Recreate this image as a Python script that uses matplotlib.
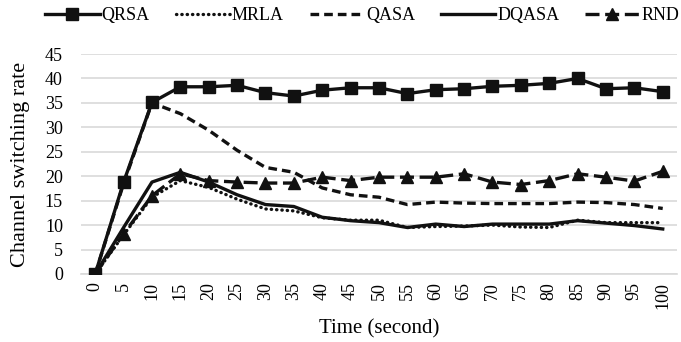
import matplotlib.pyplot as plt
import numpy as np

plt.rcParams["font.family"] = ["Liberation Serif", "DejaVu Serif"]

# time axis (categories) and series
time = [0, 5, 10, 15, 20, 25, 30, 35, 40, 45, 50,
        55, 60, 65, 70, 75, 80, 85, 90, 95, 100]
qrsa = [0, 18.8, 35.1, 38.3, 38.3, 38.6, 37.1, 36.4, 37.6, 38.1, 38.1,
        36.9, 37.7, 37.9, 38.4, 38.6, 39.0, 40.0, 37.9, 38.1, 37.3]
mrla = [0, 8.0, 15.7, 19.1, 17.7, 15.3, 13.3, 12.9, 11.5, 11.0, 11.0,
        9.5, 9.7, 9.8, 10.0, 9.6, 9.5, 11.0, 10.5, 10.5, 10.5]
qasa = [0, 18.5, 35.0, 32.8, 29.4, 25.3, 21.8, 20.8, 17.6, 16.2, 15.7,
        14.2, 14.7, 14.5, 14.4, 14.4, 14.4, 14.7, 14.6, 14.2, 13.4]
dqasa = [0, 9.5, 18.8, 20.8, 18.8, 16.2, 14.2, 13.8, 11.6, 10.9, 10.5,
         9.5, 10.2, 9.7, 10.2, 10.2, 10.2, 10.9, 10.4, 9.9, 9.2]
rnd = [0, 8.2, 16.0, 20.5, 19.1, 18.8, 18.6, 18.6, 19.8, 19.1, 19.8,
       19.8, 19.8, 20.5, 18.8, 18.3, 19.1, 20.5, 19.8, 19.0, 21.0]

fig = plt.figure(figsize=(6.81, 3.42), dpi=100)
ax = fig.add_axes([0.119, 0.199, 0.875, 0.643])

x = np.arange(len(time))
c = "#111111"
lw = 2.4

ax.plot(x, dqasa, color=c, lw=lw, label="DQASA", zorder=3)
ax.plot(x, mrla, color=c, lw=lw, linestyle=(0, (0.1, 1.5)),
        dash_capstyle="round", label="MRLA", zorder=3)
ax.plot(x, qasa, color=c, lw=lw, linestyle=(0, (2.6, 1.5)), label="QASA", zorder=3)
ax.plot(x, rnd, color=c, lw=lw, linestyle=(0, (4.2, 1.7)), marker="^",
        markersize=8.5, label="RND", zorder=4)
ax.plot(x, qrsa, color=c, lw=lw, marker="s", markersize=9,
        label="QRSA", zorder=5)

ax.set_xlim(-0.5, len(time) - 0.5)
ax.set_ylim(0, 45)
ax.set_yticks(range(0, 46, 5))
ax.set_xticks(x)
ax.set_xticklabels([str(t) for t in time], rotation=90)
ax.tick_params(axis="both", length=0, labelsize=13)
ax.tick_params(axis="y", pad=13)
ax.tick_params(axis="x", pad=6)
ax.yaxis.grid(True, color="#d9d9d9", lw=1.2)
ax.set_axisbelow(True)
for s in ["top", "right", "left"]:
    ax.spines[s].set_visible(False)
ax.spines["bottom"].set_color("#d9d9d9")
ax.spines["bottom"].set_linewidth(1.2)

ax.set_xlabel("Time (second)", fontsize=15, labelpad=7)
ax.set_ylabel("Channel switching rate", fontsize=16, labelpad=11)

handles, labels = ax.get_legend_handles_labels()
order = ["QRSA", "MRLA", "QASA", "DQASA", "RND"]
hmap = dict(zip(labels, handles))
fig.legend([hmap[k] for k in order], order, loc="center",
           bbox_to_anchor=(0.532, 0.955), ncol=5, frameon=False, fontsize=13,
           handlelength=3.0, handletextpad=0.1, columnspacing=1.45,
           borderpad=0.1)

fig.savefig("out.png", dpi=100)
